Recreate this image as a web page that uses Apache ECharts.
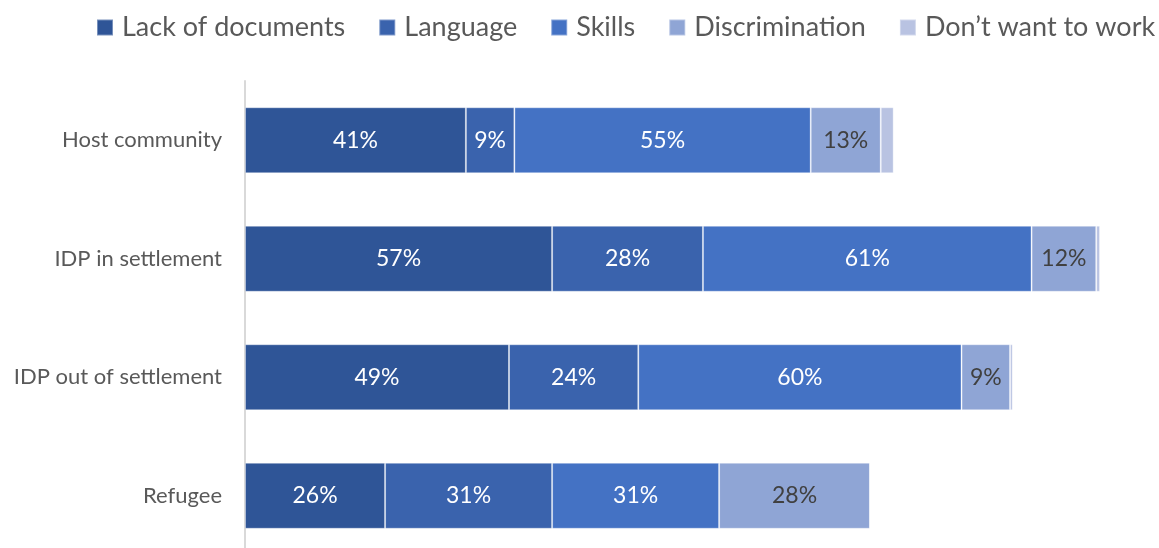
<!DOCTYPE html>
<html>
<head>
<meta charset="utf-8">
<script src="https://cdn.jsdelivr.net/npm/echarts@6/dist/echarts.min.js"></script>
<style>
  html, body { margin: 0; padding: 0; background: #fff; }
  #chart { width: 1159px; height: 548px; }
</style>
</head>
<body>
<div id="chart"></div>
<script>
  var categories = ['Host community', 'IDP in settlement', 'IDP out of settlement', 'Refugee'];
  var seriesNames = ['Lack of documents', 'Language', 'Skills', 'Discrimination', 'Don\u2019t want to work'];
  var lackOfDocuments = [41, 57, 49, 26];
  var language = [9, 28, 24, 31];
  var skills = [55, 61, 60, 31];
  var discrimination = [13, 12, 9, 28];
  var dontWantToWork = [2.4, 0.7, 0.5, 0];

  var colors = ['#2f5597', '#3a63ad', '#4472c4', '#8fa5d5', '#b9c3e2'];
  var labelColors = ['#ffffff', '#ffffff', '#ffffff', '#404040', '#404040'];
  var font = 'Lato';

  var chart = echarts.init(document.getElementById('chart'));

  function makeSeries(name, data, i) {
    return {
      name: name,
      type: 'bar',
      stack: 'total',
      data: data,
      barWidth: 66,
      itemStyle: {
        color: colors[i],
        borderColor: 'rgba(255,255,255,0.35)',
        borderWidth: 1
      },
      label: {
        show: i < 4,
        position: 'inside',
        fontFamily: font,
        fontSize: 23,
        color: labelColors[i],
        formatter: function (p) {
          return p.value >= 5 ? p.value + '%' : '';
        }
      }
    };
  }

  var allData = [lackOfDocuments, language, skills, discrimination, dontWantToWork];
  var series = seriesNames.map(function (name, i) {
    return makeSeries(name, allData[i], i);
  });

  chart.setOption({
    animation: false,
    legend: {
      data: seriesNames,
      top: 14,
      left: 96,
      width: 1080,
      padding: 0,
      itemWidth: 16,
      itemHeight: 16,
      itemGap: 33,
      icon: 'rect',
      textStyle: {
        fontFamily: font,
        fontSize: 27,
        color: '#595959',
        padding: [0, 0, 0, 4]
      }
    },
    grid: {
      left: 245,
      right: 52,
      top: 81,
      height: 474,
      outerBoundsMode: 'none'
    },
    xAxis: {
      type: 'value',
      min: 0,
      max: 160,
      show: false
    },
    yAxis: {
      type: 'category',
      data: categories,
      inverse: true,
      axisLine: { show: true, lineStyle: { color: '#d9d9d9', width: 2 } },
      axisTick: { show: false },
      axisLabel: {
        fontFamily: font,
        fontSize: 22,
        color: '#595959',
        margin: 23
      }
    },
    series: series
  });
</script>
</body>
</html>
